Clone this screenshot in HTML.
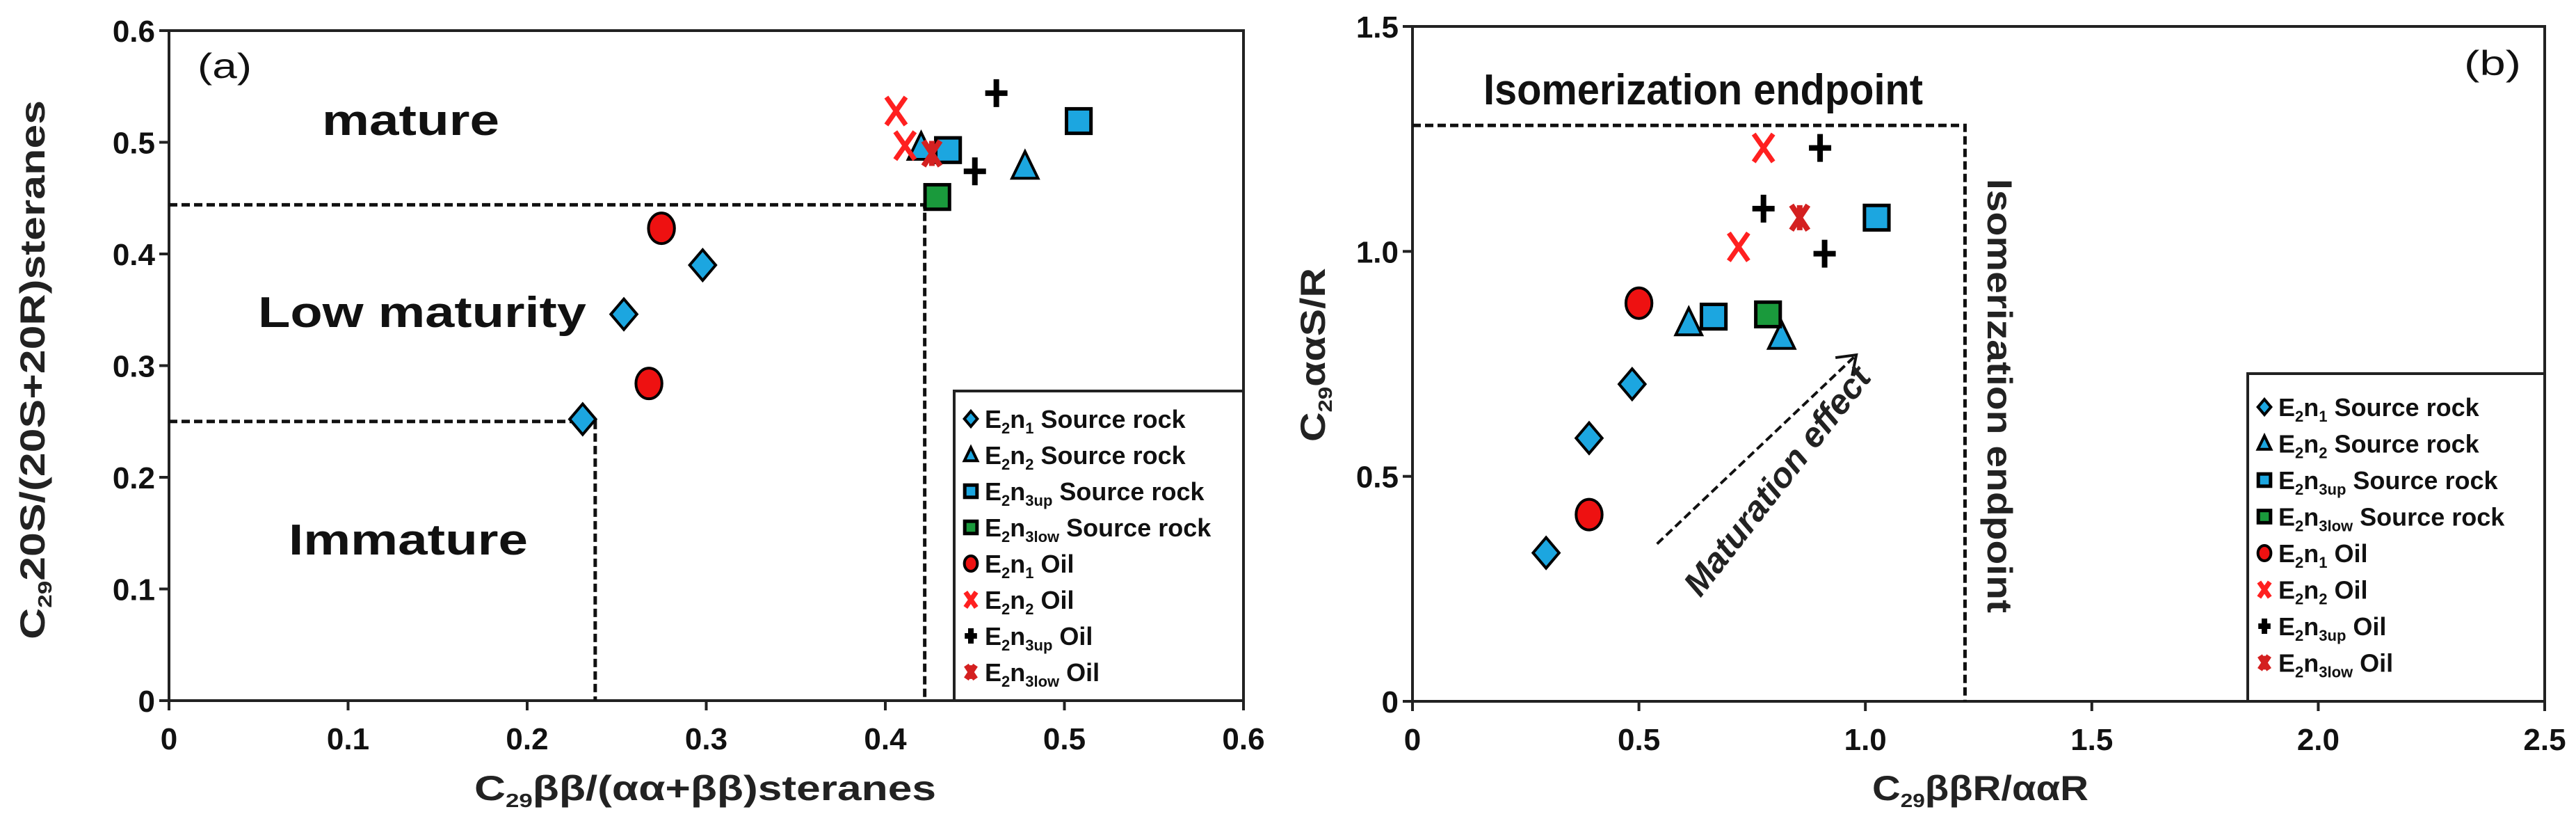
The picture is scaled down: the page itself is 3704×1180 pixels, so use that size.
<!DOCTYPE html>
<html><head><meta charset="utf-8"><style>
html,body{margin:0;padding:0;background:#fff;}
svg{display:block;}
.tk{font-family:"Liberation Sans Narrow","Liberation Sans",sans-serif;font-weight:bold;font-size:44px;fill:#111;}
.at{font-family:"Liberation Sans",sans-serif;font-weight:bold;font-size:50px;fill:#222;}
.rg{font-family:"Liberation Sans Narrow","Liberation Sans",sans-serif;font-weight:bold;font-size:62px;fill:#111;}
.pl{font-family:"Liberation Sans Narrow","Liberation Sans",sans-serif;font-weight:normal;font-size:50px;fill:#111;}
.lg{font-family:"Liberation Sans",sans-serif;font-weight:bold;font-size:36px;fill:#111;}
</style></head><body>
<svg id="fig" width="3704" height="1180" viewBox="0 0 3704 1180" xmlns="http://www.w3.org/2000/svg">
<g id="ga"></g>
<g id="gb"></g>
</svg>
<script>
// ---- Chart (a) data ----
const aXTicks = [0,0.1,0.2,0.3,0.4,0.5,0.6];
const aYTicks = [0,0.1,0.2,0.3,0.4,0.5,0.6];
const aSrc1 = [[0.231,0.252],[0.254,0.346],[0.298,0.390]];
const aSrc2 = [[0.420,0.495],[0.478,0.478]];
const aSrc3up = [[0.435,0.493],[0.508,0.519]];
const aSrc3low = [[0.429,0.451]];
const aOil1 = [[0.275,0.423],[0.268,0.284]];
const aOil2 = [[0.406,0.528],[0.411,0.497]];
const aOil3up = [[0.462,0.544],[0.450,0.474]];
const aOil3low = [[0.426,0.490]];
// ---- Chart (b) data ----
const bXTicks = [0,0.5,1.0,1.5,2.0,2.5];
const bXLabels = ["0","0.5","1.0","1.5","2.0","2.5"];
const bYTicks = [0,0.5,1.0,1.5];
const bYLabels = ["0","0.5","1.0","1.5"];
const bSrc1 = [[0.295,0.33],[0.39,0.585],[0.485,0.705]];
const bSrc2 = [[0.61,0.84],[0.815,0.81]];
const bSrc3up = [[0.665,0.855],[1.025,1.075]];
const bSrc3low = [[0.785,0.86]];
const bOil1 = [[0.5,0.885],[0.39,0.415]];
const bOil2 = [[0.775,1.23],[0.72,1.01]];
const bOil3up = [[0.9,1.23],[0.775,1.095],[0.91,0.995]];
const bOil3low = [[0.855,1.075]];

const NS="http://www.w3.org/2000/svg";
function mk(parent,tag,attrs,text){const e=document.createElementNS(NS,tag);for(const k in attrs)e.setAttribute(k,attrs[k]);if(text!==undefined)e.textContent=text;parent.appendChild(e);return e;}

function marker(g,type,cx,cy,s){
  let e;
  if(type==='diamond'){e=mk(g,'polygon',{points:`${cx},${cy-s} ${cx+s*0.85},${cy} ${cx},${cy+s} ${cx-s*0.85},${cy}`,fill:'#1ca6e0',stroke:'#000','stroke-width':4});}
  else if(type==='tri'){e=mk(g,'polygon',{points:`${cx},${cy-s} ${cx+s*0.85},${cy+s*0.75} ${cx-s*0.85},${cy+s*0.75}`,fill:'#1ca6e0',stroke:'#000','stroke-width':4});}
  else if(type==='sq'){e=mk(g,'rect',{x:cx-s*0.8,y:cy-s*0.8,width:s*1.6,height:s*1.6,fill:'#1ca6e0',stroke:'#000','stroke-width':5});}
  else if(type==='sqg'){e=mk(g,'rect',{x:cx-s*0.8,y:cy-s*0.8,width:s*1.6,height:s*1.6,fill:'#1a9a3c',stroke:'#000','stroke-width':5});}
  else if(type==='circ'){e=mk(g,'ellipse',{cx:cx,cy:cy,rx:s*0.85,ry:s,fill:'#ee1111',stroke:'#000','stroke-width':4});}
  else if(type==='x'){e=mk(g,'path',{d:`M${cx-s*0.7},${cy-s} L${cx+s*0.7},${cy+s} M${cx+s*0.7},${cy-s} L${cx-s*0.7},${cy+s}`,stroke:'#ff2020','stroke-width':7,fill:'none'});}
  else if(type==='plus'){e=mk(g,'path',{d:`M${cx-s*0.8},${cy} L${cx+s*0.8},${cy} M${cx},${cy-s} L${cx},${cy+s}`,stroke:'#000','stroke-width':8,fill:'none'});}
  else if(type==='star'){e=mk(g,'path',{d:`M${cx-s*0.6},${cy-s*0.9} L${cx+s*0.6},${cy+s*0.9} M${cx+s*0.6},${cy-s*0.9} L${cx-s*0.6},${cy+s*0.9} M${cx},${cy-s*0.9} L${cx},${cy+s*0.9}`,stroke:'#d42020','stroke-width':8,fill:'none'});}
  return e;
}

function legendText(g,x,y,sub,rest){
  const t=mk(g,'text',{x:x,y:y,class:'lg'});
  mk(t,'tspan',{},'E');
  mk(t,'tspan',{'font-size':22,dy:8},'2');
  mk(t,'tspan',{dy:-8},'n');
  mk(t,'tspan',{'font-size':22,dy:8},sub);
  mk(t,'tspan',{dy:-8},' '+rest);
  return t;
}

function chart(cfg){
  const g=document.getElementById(cfg.id);
  const X=v=>cfg.x0+(v-cfg.xmin)/(cfg.xmax-cfg.xmin)*(cfg.x1-cfg.x0);
  const Y=v=>cfg.y0-(v-cfg.ymin)/(cfg.ymax-cfg.ymin)*(cfg.y0-cfg.y1);
  const frame=mk(g,'rect',{x:cfg.x0,y:cfg.y1,width:cfg.x1-cfg.x0,height:cfg.y0-cfg.y1,fill:'none',stroke:'#222','stroke-width':4});
  
  
  cfg.xt.forEach((v,i)=>{
    mk(g,'line',{x1:X(v),x2:X(v),y1:cfg.y0,y2:cfg.y0+14,stroke:'#222','stroke-width':4});
    const t=mk(g,'text',{x:X(v),y:cfg.y0+70,class:'tk','text-anchor':'middle'},cfg.xl[i]);
    
    
  });
  cfg.yt.forEach((v,i)=>{
    mk(g,'line',{x1:cfg.x0-14,x2:cfg.x0,y1:Y(v),y2:Y(v),stroke:'#222','stroke-width':4});
    const t=mk(g,'text',{x:cfg.x0-20,y:Y(v)+16,class:'tk','text-anchor':'end'},cfg.yl[i]);
    
    
  });
  cfg.guides.forEach(p=>{
    const l=mk(g,'polyline',{points:p.map(q=>X(q[0])+','+Y(q[1])).join(' '),fill:'none',stroke:'#111','stroke-width':5,'stroke-dasharray':'12,6'});
    
    
  });
  const s=22;
  cfg.series.forEach(se=>{
    se.data.forEach(d=>{
      const m=marker(g,se.type,X(d[0]),Y(d[1]),se.type==='plus'||se.type==='x'||se.type==='star'?20:s);
      
      
    });
  });
  const L=cfg.leg;
  const lb=mk(g,'rect',{x:L.x,y:L.y,width:cfg.x1-L.x,height:cfg.y0-L.y,fill:'#fff',stroke:'#222','stroke-width':4});
  
  
  cfg.series.forEach((se,i)=>{
    const cy=L.r0+i*L.dy;
    const m=marker(g,se.type,L.x+24,cy-13,11);
    
    
    const t=legendText(g,L.x+44,cy,se.sub,se.rest);
    
    
  });
  return {g,X,Y};
}

function seriesList(s1,s2,s3u,s3l,o1,o2,o3u,o3l){
  return [
    {name:'e2n1-source',type:'diamond',data:s1,sub:'1',rest:'Source rock'},
    {name:'e2n2-source',type:'tri',data:s2,sub:'2',rest:'Source rock'},
    {name:'e2n3up-source',type:'sq',data:s3u,sub:'3up',rest:'Source rock'},
    {name:'e2n3low-source',type:'sqg',data:s3l,sub:'3low',rest:'Source rock'},
    {name:'e2n1-oil',type:'circ',data:o1,sub:'1',rest:'Oil'},
    {name:'e2n2-oil',type:'x',data:o2,sub:'2',rest:'Oil'},
    {name:'e2n3up-oil',type:'plus',data:o3u,sub:'3up',rest:'Oil'},
    {name:'e2n3low-oil',type:'star',data:o3l,sub:'3low',rest:'Oil'}];
}

const A=chart({id:'ga',x0:243,x1:1788,y0:1007,y1:44,xmin:0,xmax:0.6,ymin:0,ymax:0.6,
  xt:aXTicks,xl:aXTicks.map(String),yt:aYTicks,yl:aYTicks.map(String),
  guides:[[[0,0.444],[0.422,0.444],[0.422,0]],[[0,0.25],[0.238,0.25],[0.238,0]]],
  series:seriesList(aSrc1,aSrc2,aSrc3up,aSrc3low,aOil1,aOil2,aOil3up,aOil3low),
  leg:{x:1372,y:562,r0:615,dy:52}});
const B=chart({id:'gb',x0:2031,x1:3659,y0:1008,y1:38,xmin:0,xmax:2.5,ymin:0,ymax:1.5,
  xt:bXTicks,xl:bXLabels,yt:bYTicks,yl:bYLabels,
  guides:[[[0,1.28],[1.22,1.28],[1.22,0]]],
  series:seriesList(bSrc1,bSrc2,bSrc3up,bSrc3low,bOil1,bOil2,bOil3up,bOil3low),
  leg:{x:3232,y:537,r0:598,dy:52.5}});

const ga=A.g, gb=B.g;
let t;
t=mk(ga,'text',{x:284,y:112,class:'pl',textLength:78,lengthAdjust:'spacingAndGlyphs'},'(a)');


t=mk(ga,'text',{x:463,y:194,class:'rg',textLength:255,lengthAdjust:'spacingAndGlyphs'},'mature');


t=mk(ga,'text',{x:371,y:470,class:'rg',textLength:472,lengthAdjust:'spacingAndGlyphs'},'Low maturity');


t=mk(ga,'text',{x:415,y:797,class:'rg',textLength:344,lengthAdjust:'spacingAndGlyphs'},'Immature');


t=mk(ga,'text',{x:682,y:1150,class:'at',textLength:664,lengthAdjust:'spacingAndGlyphs'});
mk(t,'tspan',{},'C');mk(t,'tspan',{'font-size':28,dy:10},'29');mk(t,'tspan',{dy:-10},'ββ/(αα+ββ)steranes');


t=mk(ga,'text',{x:0,y:0,class:'at',textLength:775,lengthAdjust:'spacingAndGlyphs',transform:'translate(64,919) rotate(-90)'});
mk(t,'tspan',{},'C');mk(t,'tspan',{'font-size':28,dy:10},'29');mk(t,'tspan',{dy:-10},'20S/(20S+20R)steranes');



t=mk(gb,'text',{x:3543,y:108,class:'pl',textLength:82,lengthAdjust:'spacingAndGlyphs'},'(b)');


t=mk(gb,'text',{x:2133,y:150,class:'rg','font-size':56,textLength:632,lengthAdjust:'spacingAndGlyphs'},'Isomerization endpoint');


t=mk(gb,'text',{x:0,y:0,class:'at','font-size':48,textLength:624,lengthAdjust:'spacingAndGlyphs',transform:'translate(2858,257) rotate(90)'},'Isomerization endpoint');


const ar=mk(gb,'line',{x1:B.X(0.54),y1:B.Y(0.35),x2:B.X(0.98),y2:B.Y(0.77),stroke:'#111','stroke-width':4,'stroke-dasharray':'12,6'});


const ah=mk(gb,'path',{d:`M${B.X(0.98)-30},${B.Y(0.77)+4} L${B.X(0.98)},${B.Y(0.77)} L${B.X(0.98)-6},${B.Y(0.77)+30}`,stroke:'#111','stroke-width':4,fill:'none'});


t=mk(gb,'text',{x:0,y:0,class:'at','font-size':46,'font-style':'italic',transform:'translate(2445,860) rotate(-52)'},'Maturation effect');


t=mk(gb,'text',{x:2692,y:1150,class:'at',textLength:311,lengthAdjust:'spacingAndGlyphs'});
mk(t,'tspan',{},'C');mk(t,'tspan',{'font-size':28,dy:10},'29');mk(t,'tspan',{dy:-10},'ββR/ααR');


t=mk(gb,'text',{x:0,y:0,class:'at',textLength:250,lengthAdjust:'spacingAndGlyphs',transform:'translate(1905,635) rotate(-90)'});
mk(t,'tspan',{},'C');mk(t,'tspan',{'font-size':28,dy:10},'29');mk(t,'tspan',{dy:-10},'ααS/R');


</script>
</body></html>
